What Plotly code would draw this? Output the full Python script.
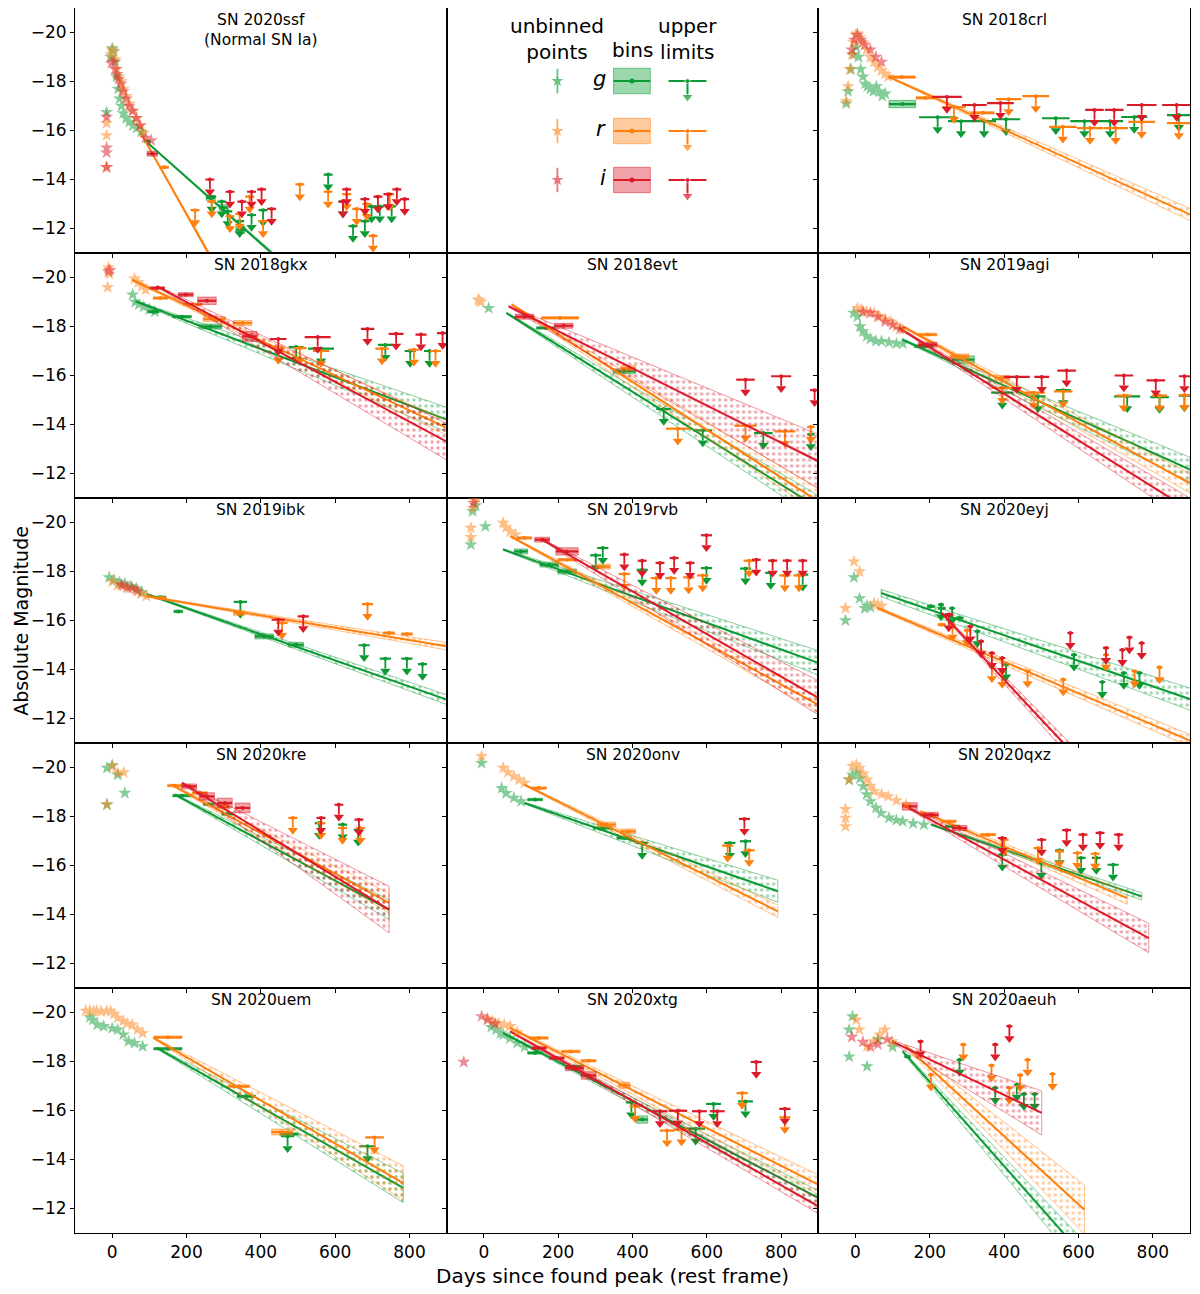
import plotly.graph_objects as go

BANDS = ["g", "r", "i"]
COLORS = {"g": "#0b9a34", "r": "#ff7f0e", "i": "#dc1a28"}

# ---- SN 2020ssf ----
ssf_pts = {
    "g": [(-15, -16.75), (-4, -19.0), (0, -19.35), (4, -19.25), (8, -18.8), (12, -18.2), (16, -17.7),
          (20, -17.3), (25, -17.0), (30, -16.7), (38, -16.5), (46, -16.35), (56, -16.2), (66, -16.1), (78, -15.95)],
    "r": [(-15, -16.3), (-15, -15.8), (-15, -14.5), (-3, -19.1), (0, -19.3), (4, -19.2), (8, -18.9), (13, -18.5),
          (18, -18.2), (24, -18.0), (30, -17.7), (38, -17.4), (46, -17.1), (55, -16.8), (65, -16.5), (75, -16.2), (85, -15.9)],
    "i": [(-15, -16.55), (-15, -15.3), (-15, -15.1), (-15, -14.5), (-2, -18.75), (3, -18.8), (8, -18.5), (13, -18.3),
          (18, -18.1), (24, -17.9), (30, -17.6), (38, -17.3), (46, -17.0), (55, -16.8), (65, -16.5), (75, -16.2),
          (90, -15.7), (105, -15.6)],
}
ssf_bins = {
    "g": [(95, 8, -15.55, 0.05), (265, 12, -13.25, 0.1), (300, 12, -12.85, 0.12), (345, 12, -11.95, 0.15)],
    "r": [(140, 12, -14.5, 0.05)],
    "i": [(108, 14, -15.05, 0.1)],
}
ssf_ul = {
    "g": [(268, 12, -13.3), (295, 12, -13.1), (311, 12, -12.7), (343, 12, -12.3), (375, 12, -12.55), (406, 12, -12.75),
          (581, 12, -14.2), (621, 12, -13.1), (648, 12, -12.1), (680, 12, -12.3), (698, 12, -12.9), (720, 12, -12.9),
          (752, 12, -12.9)],
    "r": [(223, 12, -12.75), (268, 12, -13.1), (317, 12, -12.5), (343, 12, -12.6), (370, 12, -13.3), (406, 12, -12.3),
          (505, 12, -13.8), (581, 12, -13.5), (631, 12, -13.4), (658, 12, -12.8), (685, 12, -13.0), (702, 12, -11.7),
          (747, 12, -13.4)],
    "i": [(263, 12, -14.0), (317, 12, -13.5), (349, 12, -13.1), (375, 12, -13.5), (402, 12, -13.6), (429, 12, -12.8),
          (621, 12, -13.1), (631, 12, -13.6), (680, 12, -13.2), (715, 12, -13.3), (742, 12, -13.4), (766, 12, -13.6),
          (787, 12, -13.2)],
}
ssf_fit = {
    "g": (95, -15.5, 0.02, 600, -8.7, 0.1),
    "r": (75, -15.95, 0.02, 400, -7.2, 0.15),
}

# ---- SN 2018crl ----
crl_pts = {
    "g": [(-25, -17.1), (-20, -17.6), (-12, -18.5), (-5, -19.1), (2, -19.4), (8, -19.0), (14, -18.5), (20, -18.2),
          (26, -17.9), (32, -17.8), (40, -17.7), (48, -17.6), (56, -17.8), (64, -17.6), (72, -17.4), (80, -17.5)],
    "r": [(-25, -17.2), (-20, -17.8), (-15, -18.5), (-10, -19.1), (-5, -19.6), (0, -19.9), (5, -19.95), (12, -19.8),
          (20, -19.6), (30, -19.3), (40, -19.0), (50, -18.8), (60, -18.6), (70, -18.45), (80, -18.3), (88, -18.2)],
    "i": [(-10, -19.3), (-3, -19.7), (5, -19.9), (15, -19.7), (25, -19.5), (40, -19.3), (55, -19.0), (70, -18.8)],
}
crl_bins = {
    "g": [(126, 36, -17.08, 0.15)],
    "r": [(125, 36, -18.18, 0.05), (188, 25, -17.33, 0.05), (342, 31, -16.72, 0.05)],
}
crl_ul = {
    "g": [(221, 50, -16.54), (284, 35, -16.38), (346, 32, -16.38), (405, 38, -16.46), (539, 37, -16.5),
          (616, 38, -16.38), (685, 35, -16.38), (750, 35, -16.55), (870, 32, -16.63)],
    "r": [(265, 32, -16.96), (412, 34, -17.28), (485, 36, -17.4), (558, 37, -16.15), (631, 35, -16.1),
          (700, 33, -16.1), (770, 36, -16.35), (870, 32, -16.3)],
    "i": [(246, 40, -17.37), (320, 33, -17.04), (390, 36, -17.12), (643, 25, -16.84), (696, 25, -16.84),
          (770, 40, -17.04), (864, 39, -17.04)],
}
crl_fit = {"r": (91, -18.18, 0.03, 903, -12.55, 0.25)}

# ---- SN 2018gkx ----
gkx_pts = {
    "g": [(55, -19.3), (62, -19.0), (72, -18.9), (85, -18.8), (100, -18.7), (115, -18.6)],
    "r": [(-10, -20.4), (-8, -20.15), (-12, -19.6), (60, -19.95), (70, -19.8), (80, -19.65), (90, -19.5)],
    "i": [(-10, -20.25), (-6, -20.3)],
}
gkx_bins = {
    "g": [(111, 15, -18.6, 0.05), (188, 25, -18.4, 0.05), (265, 30, -18.0, 0.1)],
    "r": [(130, 20, -19.16, 0.05), (217, 25, -18.9, 0.05), (275, 30, -18.3, 0.1), (351, 25, -18.14, 0.1)],
    "i": [(121, 20, -19.57, 0.05), (198, 20, -19.3, 0.08), (255, 25, -19.05, 0.15), (370, 20, -17.6, 0.2)],
}
gkx_ul = {
    "g": [(495, 20, -17.16), (562, 35, -17.1), (735, 20, -17.25), (802, 15, -17.0), (854, 15, -17.0)],
    "r": [(447, 18, -17.12), (505, 18, -17.12), (562, 22, -17.0), (726, 18, -17.1), (812, 15, -17.05), (870, 15, -17.0)],
    "i": [(447, 22, -17.49), (553, 35, -17.57), (687, 18, -17.9), (764, 20, -17.7), (831, 15, -17.67), (889, 15, -17.73)],
}
gkx_fit = {
    "g": (63, -19.03, 0.03, 900, -14.2, 0.5),
    "r": (54, -19.9, 0.03, 900, -13.86, 0.3),
    "i": (121, -19.64, 0.03, 900, -13.3, 0.75),
}

# ---- SN 2018evt ----
evt_pts = {
    "g": [(13, -18.75)],
    "r": [(-15, -19.1), (-8, -19.0), (-12, -19.05)],
}
evt_bins = {
    "g": [(167, 25, -17.94, 0.05), (378, 30, -16.17, 0.1)],
    "r": [(205, 50, -18.35, 0.05), (388, 20, -16.3, 0.1)],
    "i": [(109, 25, -18.4, 0.1), (215, 25, -18.03, 0.1)],
}
evt_ul = {
    "g": [(484, 20, -14.63), (589, 25, -13.76), (752, 25, -13.65), (880, 10, -13.6)],
    "r": [(522, 32, -13.83), (704, 30, -13.95), (810, 28, -13.72), (880, 10, -13.9)],
    "i": [(704, 25, -15.83), (800, 27, -15.97), (890, 12, -15.4)],
}
evt_fit = {
    "g": (61, -18.55, 0.03, 900, -10.6, 0.5),
    "r": (75, -18.9, 0.03, 900, -10.86, 0.5),
    "i": (67, -18.82, 0.03, 900, -12.5, 1.1),
}

# ---- SN 2019agi ----
agi_pts = {
    "g": [(-5, -18.55), (5, -18.4), (12, -18.0), (20, -17.8), (30, -17.6), (40, -17.5), (55, -17.4), (70, -17.4),
          (90, -17.35), (110, -17.3), (127, -17.3)],
    "r": [(5, -18.75), (15, -18.7), (30, -18.6), (50, -18.55), (65, -18.4), (80, -18.3), (95, -18.2), (110, -18.0),
          (127, -17.87)],
    "i": [(20, -18.6), (40, -18.55), (60, -18.4), (80, -18.2), (100, -18.07), (120, -17.9)],
}
agi_bins = {
    "g": [(184, 25, -17.19, 0.05), (290, 30, -16.65, 0.15)],
    "r": [(194, 25, -17.67, 0.05), (280, 25, -16.78, 0.1), (395, 20, -15.9, 0.1)],
    "i": [(194, 25, -17.26, 0.1)],
}
agi_ul = {
    "g": [(395, 30, -15.3), (491, 20, -15.15), (559, 20, -15.4), (731, 35, -15.15), (818, 25, -15.12), (885, 15, -15.18)],
    "r": [(395, 30, -15.49), (480, 30, -15.3), (559, 25, -15.35), (722, 20, -15.18), (818, 20, -15.18), (885, 15, -15.2)],
    "i": [(434, 35, -15.94), (501, 20, -15.94), (568, 25, -16.2), (722, 25, -16.0), (808, 25, -15.8), (885, 15, -15.97)],
}
agi_fit = {
    "g": (127, -17.46, 0.03, 900, -12.16, 0.5),
    "r": (127, -18.0, 0.03, 900, -11.6, 0.4),
    "i": (117, -17.94, 0.03, 900, -10.5, 0.5),
}

# ---- SN 2019ibk ----
ibk_pts = {
    "g": [(-8, -17.76), (5, -17.65), (20, -17.55), (34, -17.5), (50, -17.4), (65, -17.3), (80, -17.15)],
    "r": [(0, -17.6), (15, -17.44), (30, -17.4), (45, -17.3), (63, -17.26), (78, -17.1), (92, -17.0)],
    "i": [(25, -17.45), (40, -17.35), (54, -17.33), (68, -17.2)],
}
ibk_bins = {
    "g": [(130, 15, -16.95, 0.05), (178, 12, -16.37, 0.05), (409, 25, -15.35, 0.1), (495, 20, -15.01, 0.1)],
    "r": [(130, 15, -16.92, 0.05), (342, 15, -16.3, 0.1), (745, 15, -15.49, 0.05), (793, 15, -15.45, 0.05)],
}
ibk_ul = {
    "g": [(345, 18, -16.76), (678, 15, -14.99), (735, 15, -14.44), (793, 15, -14.44), (835, 12, -14.22)],
    "r": [(457, 15, -15.9), (687, 15, -16.67)],
    "i": [(447, 18, -16.03), (514, 15, -16.17)],
}
ibk_fit = {
    "g": (92, -17.08, 0.02, 900, -12.77, 0.2),
    "r": (92, -16.99, 0.02, 900, -14.95, 0.15),
}

# ---- SN 2019rvb ----
rvb_pts = {
    "g": [(-35, -19.1), (-30, -20.46), (-22, -20.7), (4, -19.84)],
    "r": [(-35, -19.78), (-35, -19.4), (-30, -20.6), (-25, -20.9), (-20, -21.0), (52, -19.98), (60, -19.8),
          (71, -19.64), (85, -19.5)],
    "i": [(-28, -20.8)],
}
rvb_bins = {
    "g": [(100, 18, -18.82, 0.1), (176, 25, -18.28, 0.1), (224, 25, -18.0, 0.1)],
    "r": [(109, 20, -19.37, 0.05), (224, 25, -18.48, 0.05), (320, 20, -18.2, 0.1)],
    "i": [(157, 20, -19.3, 0.1), (224, 30, -18.82, 0.15)],
}
rvb_ul = {
    "g": [(301, 15, -18.66), (320, 15, -18.96), (426, 15, -18.07), (599, 15, -18.14), (704, 15, -18.12),
          (772, 15, -17.94), (858, 15, -17.87)],
    "r": [(378, 15, -17.9), (464, 15, -17.73), (503, 15, -17.73), (551, 15, -17.76), (589, 15, -17.84),
          (714, 15, -18.44), (810, 15, -17.84), (848, 15, -17.84)],
    "i": [(378, 12, -18.69), (426, 12, -18.44), (474, 12, -18.35), (512, 12, -18.55), (555, 12, -18.35),
          (599, 15, -19.48), (733, 12, -18.48), (777, 12, -18.44), (816, 12, -18.44), (858, 12, -18.44)],
}
rvb_fit = {
    "g": (52, -18.9, 0.03, 900, -14.27, 0.5),
    "r": (71, -19.44, 0.03, 900, -12.56, 0.3),
    "i": (157, -19.3, 0.03, 900, -12.84, 0.7),
}

# ---- SN 2020eyj ----
eyj_pts = {
    "g": [(-27, -16.0), (-4, -17.76), (11, -16.9), (25, -16.5), (31, -16.6), (40, -16.55)],
    "r": [(-27, -16.5), (-4, -18.4), (11, -18.0), (50, -16.7), (60, -16.65), (70, -16.6)],
}
eyj_bins = {
    "g": [(203, 10, -16.58, 0.05), (232, 10, -16.5, 0.05), (280, 10, -16.1, 0.05)],
    "r": [(232, 10, -15.83, 0.05)],
    "i": [(251, 10, -16.24, 0.05)],
}
eyj_ul = {
    "g": [(230, 8, -16.65), (260, 8, -16.5), (328, 8, -15.56), (405, 8, -14.2), (588, 8, -14.6), (664, 8, -13.49),
          (722, 8, -13.86), (764, 8, -13.86)],
    "r": [(261, 8, -15.83), (300, 8, -15.6), (367, 8, -14.13), (395, 8, -13.9), (463, 8, -13.93), (559, 8, -13.59),
          (674, 8, -14.6), (751, 8, -13.93), (818, 8, -14.09)],
    "i": [(251, 8, -16.2), (309, 8, -15.76), (338, 8, -15.15), (367, 8, -14.67), (395, 8, -14.47), (578, 8, -15.49),
          (674, 8, -14.88), (718, 8, -14.8), (737, 8, -15.31), (770, 8, -15.08)],
}
eyj_fit = {
    "g": (69, -17.12, 0.15, 904, -12.77, 0.45),
    "r": (59, -16.51, 0.05, 900, -11.1, 0.25),
    "i": (232, -16.3, 0.05, 600, -10.34, 0.3),
}

# ---- SN 2020kre ----
kre_pts = {
    "g": [(-14, -19.98), (0, -20.1), (15, -19.7), (34, -18.96), (-14, -18.48)],
    "r": [(0, -20.05), (15, -19.78), (31, -19.8), (-14, -18.5)],
}
kre_bins = {
    "g": [(188, 25, -18.85, 0.05), (260, 15, -18.5, 0.05), (310, 15, -18.1, 0.05)],
    "r": [(169, 20, -19.26, 0.05), (236, 20, -18.96, 0.05), (300, 15, -18.4, 0.1)],
    "i": [(207, 20, -19.23, 0.1), (255, 20, -18.82, 0.15), (303, 20, -18.55, 0.2), (351, 20, -18.35, 0.2)],
}
kre_ul = {
    "g": [(557, 12, -17.73), (620, 12, -17.67), (662, 12, -17.46)],
    "r": [(486, 12, -17.94), (562, 12, -17.73), (620, 12, -17.53), (668, 12, -17.53)],
    "i": [(562, 12, -17.94), (610, 12, -18.48), (664, 12, -17.87)],
}
kre_fit = {
    "g": (169, -18.89, 0.03, 745, -14.2, 0.4),
    "r": (159, -19.3, 0.03, 745, -14.47, 0.4),
    "i": (188, -19.37, 0.03, 745, -14.2, 0.95),
}

# ---- SN 2020onv ----
onv_pts = {
    "g": [(-6, -20.18), (48, -19.16), (60, -18.95), (81, -18.76), (100, -18.62)],
    "r": [(-6, -20.46), (52, -19.98), (65, -19.8), (81, -19.64), (95, -19.5), (109, -19.37)],
}
onv_bins = {
    "g": [(138, 20, -18.69, 0.05), (320, 25, -17.53, 0.05), (378, 20, -17.12, 0.05)],
    "r": [(148, 20, -19.16, 0.05), (330, 25, -17.67, 0.1), (388, 20, -17.39, 0.1)],
}
onv_ul = {
    "g": [(426, 15, -16.92), (662, 15, -16.92), (704, 15, -16.99)],
    "r": [(656, 15, -16.81), (714, 15, -16.62)],
    "i": [(701, 15, -17.9)],
}
onv_fit = {
    "g": (109, -18.55, 0.03, 791, -14.95, 0.45),
    "r": (109, -19.3, 0.03, 791, -14.13, 0.25),
}

# ---- SN 2020qxz ----
qxz_pts = {
    "g": [(-17, -19.5), (-8, -19.7), (2, -19.78), (12, -19.55), (21, -19.23), (30, -18.9), (40, -18.62), (55, -18.35),
          (69, -18.14), (90, -17.95), (110, -17.85), (127, -17.8), (155, -17.72), (184, -17.67)],
    "r": [(-27, -18.3), (-27, -17.6), (-27, -17.94), (-17, -19.5), (-8, -20.05), (2, -20.12), (11, -19.98),
          (21, -19.75), (31, -19.5), (40, -19.25), (50, -19.03), (70, -18.9), (88, -18.82), (110, -18.65), (136, -18.48)],
}
qxz_bins = {
    "g": [(261, 20, -17.6, 0.05)],
    "r": [(194, 20, -18.07, 0.05), (251, 20, -17.8, 0.05), (357, 20, -17.26, 0.05)],
    "i": [(146, 20, -18.41, 0.15), (203, 20, -18.07, 0.1), (280, 20, -17.53, 0.1)],
}
qxz_ul = {
    "g": [(395, 12, -16.44), (500, 12, -16.1), (549, 12, -16.62), (607, 12, -16.31), (648, 12, -16.31), (693, 15, -16.03)],
    "r": [(400, 12, -17.05), (491, 12, -16.71), (549, 12, -16.58), (597, 12, -16.51), (645, 12, -16.48)],
    "i": [(395, 12, -17.12), (501, 12, -17.05), (568, 12, -17.44), (612, 12, -17.26), (658, 12, -17.33), (708, 12, -17.26)],
}
qxz_fit = {
    "g": (203, -17.67, 0.03, 770, -14.74, 0.15),
    "r": (175, -18.21, 0.03, 731, -14.67, 0.25),
    "i": (127, -18.48, 0.03, 789, -13.04, 0.6),
}

# ---- SN 2020uem ----
uem_pts = {
    "g": [(-60, -19.8), (-52, -19.7), (-40, -19.5), (-23, -19.44), (0, -19.35), (15, -19.3), (30, -19.1), (44, -18.82),
          (60, -18.75), (82, -18.62)],
    "r": [(-71, -20.07), (-60, -20.08), (-50, -20.05), (-42, -20.07), (-30, -20.05), (-15, -20.06), (-4, -20.05),
          (5, -19.95), (15, -19.78), (30, -19.65), (40, -19.55), (54, -19.5), (68, -19.3), (82, -19.16)],
}
uem_bins = {
    "g": [(150, 38, -18.52, 0.05), (361, 25, -16.58, 0.05), (476, 25, -15.04, 0.05)],
    "r": [(150, 38, -18.99, 0.05), (342, 28, -16.99, 0.05), (457, 28, -15.12, 0.12)],
}
uem_ul = {
    "g": [(472, 18, -14.95), (687, 22, -14.54)],
    "r": [(706, 25, -14.9)],
}
uem_fit = {
    "g": (121, -18.55, 0.03, 783, -12.84, 0.6),
    "r": (111, -18.96, 0.03, 783, -13.04, 0.7),
}

# ---- SN 2020xtg ----
xtg_pts = {
    "g": [(20, -19.4), (33, -19.3), (45, -19.15), (52, -19.1), (70, -18.95), (90, -18.76), (110, -18.6)],
    "r": [(10, -19.75), (23, -19.64), (40, -19.55), (55, -19.5), (71, -19.44), (90, -19.2)],
    "i": [(-54, -17.98), (-6, -19.84), (10, -19.7), (30, -19.55)],
}
xtg_bins = {
    "g": [(138, 20, -18.35, 0.05), (244, 20, -17.8, 0.05), (426, 15, -15.63, 0.15)],
    "r": [(148, 25, -18.96, 0.05), (234, 25, -18.41, 0.05), (282, 20, -18.03, 0.05), (378, 15, -17.03, 0.12)],
    "i": [(148, 20, -18.55, 0.05), (196, 20, -18.14, 0.05), (244, 25, -17.73, 0.1), (282, 20, -17.43, 0.15)],
}
xtg_ul = {
    "g": [(397, 15, -16.33), (570, 25, -15.26), (618, 20, -16.27), (704, 20, -16.37)],
    "r": [(407, 15, -16.17), (493, 20, -15.18), (532, 20, -15.22), (695, 15, -16.71), (810, 15, -15.72)],
    "i": [(474, 20, -15.97), (522, 25, -15.99), (580, 20, -15.97), (628, 20, -15.97), (733, 15, -17.98), (810, 15, -16.07)],
}
xtg_fit = {
    "g": (52, -19.16, 0.03, 900, -12.43, 0.3),
    "r": (71, -19.37, 0.03, 900, -12.97, 0.4),
    "i": (71, -19.23, 0.03, 900, -12.09, 0.3),
}

# ---- SN 2020aeuh ----
aeuh_pts = {
    "g": [(-8, -19.84), (-17, -19.3), (-17, -18.2), (31, -17.8), (60, -18.9), (100, -18.6)],
    "r": [(2, -19.7), (10, -19.3), (31, -18.62), (50, -18.82), (65, -19.1), (79, -19.3), (98, -18.82)],
    "i": [(-10, -19.0), (20, -18.8), (40, -18.6), (60, -18.7), (85, -18.9)],
}
aeuh_bins = {"g": [(140, 8, -18.2, 0.05)]}
aeuh_ul = {
    "g": [(280, 8, -18.07), (376, 8, -16.92), (434, 8, -17.05), (453, 8, -16.67), (482, 8, -16.67)],
    "r": [(203, 8, -17.46), (290, 8, -18.69), (366, 8, -17.84), (414, 8, -16.92), (443, 8, -17.44), (463, 8, -18.07),
          (530, 8, -17.49)],
    "i": [(175, 8, -18.82), (376, 8, -18.69), (414, 8, -19.44)],
}
aeuh_fit = {
    "g": (127, -18.41, 0.05, 600, -10.3, 0.6),
    "r": (136, -18.62, 0.05, 616, -11.95, 1.0),
    "i": (98, -18.82, 0.05, 501, -15.9, 0.9),
}

PANELS = [
    ("SN 2020ssf<br>(Normal SN Ia)", ssf_pts, ssf_bins, ssf_ul, ssf_fit),
    None,
    ("SN 2018crl", crl_pts, crl_bins, crl_ul, crl_fit),
    ("SN 2018gkx", gkx_pts, gkx_bins, gkx_ul, gkx_fit),
    ("SN 2018evt", evt_pts, evt_bins, evt_ul, evt_fit),
    ("SN 2019agi", agi_pts, agi_bins, agi_ul, agi_fit),
    ("SN 2019ibk", ibk_pts, ibk_bins, ibk_ul, ibk_fit),
    ("SN 2019rvb", rvb_pts, rvb_bins, rvb_ul, rvb_fit),
    ("SN 2020eyj", eyj_pts, eyj_bins, eyj_ul, eyj_fit),
    ("SN 2020kre", kre_pts, kre_bins, kre_ul, kre_fit),
    ("SN 2020onv", onv_pts, onv_bins, onv_ul, onv_fit),
    ("SN 2020qxz", qxz_pts, qxz_bins, qxz_ul, qxz_fit),
    ("SN 2020uem", uem_pts, uem_bins, uem_ul, uem_fit),
    ("SN 2020xtg", xtg_pts, xtg_bins, xtg_ul, xtg_fit),
    ("SN 2020aeuh", aeuh_pts, aeuh_bins, aeuh_ul, aeuh_fit),
]

X_TICKS = [0, 200, 400, 600, 800]
Y_TICKS = [-20, -18, -16, -14, -12]
FONT = "DejaVu Sans"
ARROW = 0.5  # length of upper-limit arrows in mag


def rgba(hexcol, a):
    h = hexcol.lstrip("#")
    return "rgba(%d,%d,%d,%.2f)" % (int(h[0:2], 16), int(h[2:4], 16), int(h[4:6], 16), a)


def ax_names(k):
    n = "" if k == 0 else str(k + 1)
    return "x" + n, "y" + n


fig = go.Figure()
layout = {}

for k in range(15):
    r, c = divmod(k, 3)
    xn, yn = ax_names(k)
    common = dict(showline=True, mirror=True, linecolor="black", linewidth=1, showgrid=False, zeroline=False,
                  ticks="outside", ticklen=4, tickcolor="black",
                  tickfont=dict(family=FONT, size=17, color="black"))
    xa = dict(common, domain=[c / 3, (c + 1) / 3], anchor=yn, range=[-100, 900], tickvals=X_TICKS,
              showticklabels=(r == 4))
    ya = dict(common, domain=[1 - (r + 1) / 5, 1 - r / 5], anchor=xn, range=[-11, -21], tickvals=Y_TICKS,
              showticklabels=(c == 0))
    if PANELS[k] is None:
        xa.update(range=[0, 1], tickvals=[], ticks="")
        ya.update(range=[0, 1], tickvals=[], ticks="")
    layout["xaxis" + xn[1:]] = xa
    layout["yaxis" + yn[1:]] = ya

annotations = []

for k, panel in enumerate(PANELS):
    if panel is None:
        continue
    title, pts, bins, uls, fits = panel
    xn, yn = ax_names(k)
    for b in BANDS:
        col = COLORS[b]
        # linear fit with hatched uncertainty band
        fit = fits.get(b)
        if fit:
            x0, y0, w0, x1, y1, w1 = fit
            fig.add_trace(go.Scatter(
                x=[x0, x1, x1, x0, x0], y=[y0 - w0, y1 - w1, y1 + w1, y0 + w0, y0 - w0],
                xaxis=xn, yaxis=yn, mode="lines", fill="toself", fillcolor="rgba(0,0,0,0)",
                fillpattern=dict(shape=".", fgcolor=rgba(col, 0.8), bgcolor="rgba(0,0,0,0)",
                                 size=6, solidity=0.25, fillmode="overlay"),
                line=dict(color=rgba(col, 0.45), width=1), hoverinfo="skip"))
            fig.add_trace(go.Scatter(x=[x0, x1], y=[y0, y1], xaxis=xn, yaxis=yn, mode="lines",
                                     line=dict(color=col, width=2), hoverinfo="skip"))
        # bins
        bl = bins.get(b, [])
        if bl:
            rx, ry, lx, ly = [], [], [], []
            for x, hw, y, e in bl:
                rx += [x - hw, x + hw, x + hw, x - hw, x - hw, None]
                ry += [y - e, y - e, y + e, y + e, y - e, None]
                lx += [x - hw, x + hw, None]
                ly += [y, y, None]
            fig.add_trace(go.Scatter(x=rx, y=ry, xaxis=xn, yaxis=yn, mode="lines", fill="toself",
                                     fillcolor=rgba(col, 0.4), line=dict(color=rgba(col, 0.5), width=1),
                                     hoverinfo="skip"))
            fig.add_trace(go.Scatter(x=lx, y=ly, xaxis=xn, yaxis=yn, mode="lines",
                                     line=dict(color=col, width=2.2), hoverinfo="skip"))
            fig.add_trace(go.Scatter(x=[v[0] for v in bl], y=[v[2] for v in bl], xaxis=xn, yaxis=yn,
                                     mode="markers", marker=dict(color=col, size=4), hoverinfo="skip"))
        # upper limits
        ul = uls.get(b, [])
        if ul:
            hx, hy, sx, sy = [], [], [], []
            for x, hw, y in ul:
                hx += [x - hw, x + hw, None]
                hy += [y, y, None]
                sx += [x, x, None]
                sy += [y, y + ARROW * 0.8, None]
            fig.add_trace(go.Scatter(x=hx, y=hy, xaxis=xn, yaxis=yn, mode="lines",
                                     line=dict(color=col, width=2.2), hoverinfo="skip"))
            fig.add_trace(go.Scatter(x=sx, y=sy, xaxis=xn, yaxis=yn, mode="lines",
                                     line=dict(color=col, width=1.8), hoverinfo="skip"))
            fig.add_trace(go.Scatter(x=[v[0] for v in ul], y=[v[2] + ARROW for v in ul], xaxis=xn, yaxis=yn,
                                     mode="markers", marker=dict(color=col, size=9, symbol="triangle-down"),
                                     hoverinfo="skip"))
            fig.add_trace(go.Scatter(x=[v[0] for v in ul], y=[v[2] for v in ul], xaxis=xn, yaxis=yn,
                                     mode="markers", marker=dict(color=col, size=4), hoverinfo="skip"))
    # unbinned points on top
    for b in BANDS:
        p = pts.get(b, [])
        if p:
            fig.add_trace(go.Scatter(x=[v[0] for v in p], y=[v[1] for v in p], xaxis=xn, yaxis=yn,
                                     mode="markers", opacity=0.5,
                                     marker=dict(color=COLORS[b], size=10, symbol="star", line=dict(width=0)),
                                     hoverinfo="skip"))
    annotations.append(dict(text=title, xref=xn + " domain", yref=yn + " domain", x=0.5, y=0.995,
                            xanchor="center", yanchor="top", showarrow=False,
                            font=dict(family=FONT, size=15.5, color="black")))

# legend panel (top middle)
LEG_ROWS = {"g": 0.702, "r": 0.498, "i": 0.298}
for b in BANDS:
    col = COLORS[b]
    yv = LEG_ROWS[b]
    fig.add_trace(go.Scatter(x=[0.298], y=[yv], xaxis="x2", yaxis="y2", mode="markers", opacity=0.6,
                             marker=dict(color=col, size=9, symbol="star"),
                             error_y=dict(type="constant", value=0.05, color=col, thickness=1.8, width=0),
                             hoverinfo="skip"))
    fig.add_trace(go.Scatter(x=[0.449, 0.548, 0.548, 0.449, 0.449], y=[yv - 0.052, yv - 0.052, yv + 0.052, yv + 0.052, yv - 0.052],
                             xaxis="x2", yaxis="y2", mode="lines", fill="toself", fillcolor=rgba(col, 0.4),
                             line=dict(color=rgba(col, 0.5), width=1), hoverinfo="skip"))
    fig.add_trace(go.Scatter(x=[0.449, 0.548], y=[yv, yv], xaxis="x2", yaxis="y2", mode="lines",
                             line=dict(color=col, width=2.2), hoverinfo="skip"))
    fig.add_trace(go.Scatter(x=[0.4985], y=[yv], xaxis="x2", yaxis="y2", mode="markers",
                             marker=dict(color=col, size=5), hoverinfo="skip"))
    fig.add_trace(go.Scatter(x=[0.597, 0.699, None, 0.648, 0.648], y=[yv, yv, None, yv, yv - 0.06],
                             xaxis="x2", yaxis="y2", mode="lines", line=dict(color=col, width=2),
                             hoverinfo="skip"))
    fig.add_trace(go.Scatter(x=[0.648, 0.648], y=[yv, yv - 0.065], xaxis="x2", yaxis="y2", mode="markers",
                             marker=dict(color=col, size=[5, 10], symbol=["circle", "triangle-down"]),
                             hoverinfo="skip"))
    annotations.append(dict(text="<i>%s</i>" % b, xref="x2", yref="y2", x=0.435, y=yv + 0.01, xanchor="right",
                            yanchor="middle", showarrow=False, font=dict(family=FONT, size=21, color="black")))

for txt, xv, yv in [("unbinned<br>points", 0.298, 0.873), ("bins", 0.5, 0.83), ("upper<br>limits", 0.648, 0.873)]:
    annotations.append(dict(text=txt, xref="x2", yref="y2", x=xv, y=yv, xanchor="center", yanchor="middle",
                            showarrow=False, font=dict(family=FONT, size=20, color="black")))

annotations.append(dict(text="Absolute Magnitude", xref="paper", yref="paper", x=-0.049, y=0.5, textangle=-90,
                        xanchor="center", yanchor="middle", showarrow=False,
                        font=dict(family=FONT, size=19, color="black")))
annotations.append(dict(text="Days since found peak (rest frame)", xref="paper", yref="paper", x=0.4825,
                        y=-0.035, xanchor="center", yanchor="middle", showarrow=False,
                        font=dict(family=FONT, size=20, color="black")))

fig.update_layout(**layout)
# the page adds ~8px around the figure, so margins are shifted to land the axes where the reference has them
fig.update_layout(width=1200, height=1294, margin=dict(l=67, r=18, t=0, b=69), showlegend=False,
                  plot_bgcolor="white", paper_bgcolor="white", annotations=annotations,
                  font=dict(family=FONT, color="black"))

fig.write_html("out.html")
